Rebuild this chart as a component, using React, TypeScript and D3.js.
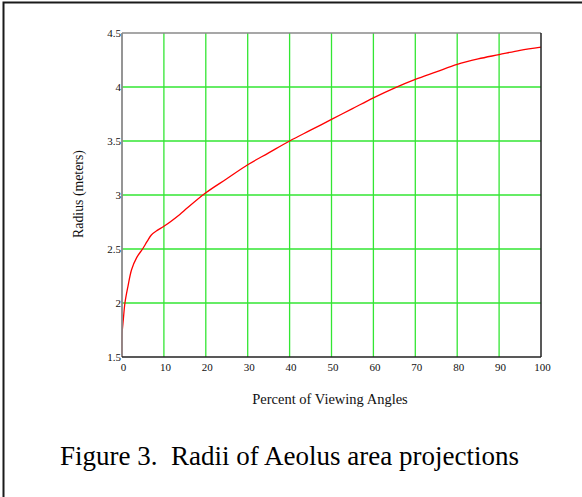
import React from "react";
import * as d3 from "d3";

// Percent of viewing angles (x) and corresponding radius in meters (y)
const percent = [0, 0, 0.1, 0.3, 0.7, 1.4, 2.3, 3.5, 4.9, 6, 7, 8.5, 10, 13.8, 15, 20, 25, 30, 35, 40, 45, 50, 55, 60, 65, 70, 75, 80, 85, 90, 95, 100];
const radius = [1.5, 1.7, 1.76, 1.84, 2.0, 2.15, 2.31, 2.42, 2.5, 2.57, 2.63, 2.675, 2.71, 2.82, 2.86, 3.02, 3.15, 3.28, 3.39, 3.5, 3.6, 3.7, 3.8, 3.9, 3.99, 4.07, 4.14, 4.21, 4.26, 4.3, 4.34, 4.37];

const xTicks = [0, 10, 20, 30, 40, 50, 60, 70, 80, 90, 100];
const yTicks = [1.5, 2, 2.5, 3, 3.5, 4, 4.5];
const yTickLabels = ["1.5", "2", "2.5", "3", "3.5", "4", "4.5"];

const xTitle = "Percent of Viewing Angles";
const yTitle = "Radius (meters)";
const caption = "Figure 3.  Radii of Aeolus area projections";

const W = 582;
const H = 497;
const plot = { left: 122, right: 541, top: 33, bottom: 357 };
const serif = "'Liberation Serif', 'Times New Roman', serif";

export default function App() {
  const x = d3.scaleLinear().domain([0, 100]).range([plot.left, plot.right]);
  const y = d3.scaleLinear().domain([1.5, 4.5]).range([plot.bottom, plot.top]);

  const pts: [number, number][] = percent.map((p, i) => [p, radius[i]]);
  const line = d3
    .line<[number, number]>()
    .x((d) => x(d[0]))
    .y((d) => y(d[1]))
    .curve(d3.curveCatmullRom.alpha(0.5));

  return (
    <svg
      width={W}
      height={H}
      style={{ position: "absolute", left: 0, top: 0, background: "#fff" }}
    >
      {/* frame around the figure */}
      <rect x={3.5} y={2.5} width={W + 10} height={H + 10} fill="none" stroke="#1a1a1a" strokeWidth={2} />

      {/* grid */}
      <g stroke="#33e633" strokeWidth={1.3}>
        {xTicks.slice(1, -1).map((t) => (
          <line key={"gx" + t} x1={x(t)} x2={x(t)} y1={plot.top} y2={plot.bottom} />
        ))}
        {yTicks.slice(1, -1).map((t) => (
          <line key={"gy" + t} x1={plot.left} x2={plot.right} y1={y(t)} y2={y(t)} />
        ))}
      </g>

      {/* curve */}
      <path d={line(pts) || ""} fill="none" stroke="#ff0000" strokeWidth={1.3} />

      {/* plot box */}
      <line x1={plot.left} x2={plot.right} y1={plot.top} y2={plot.top} stroke="#8a8a8a" strokeWidth={1.6} />
      <line x1={plot.left} x2={plot.left} y1={plot.top} y2={plot.bottom} stroke="#8a8a8a" strokeWidth={1.8} />
      <line x1={plot.right} x2={plot.right} y1={plot.top} y2={plot.bottom} stroke="#222" strokeWidth={1.5} />
      <line x1={plot.left} x2={plot.right} y1={plot.bottom} y2={plot.bottom} stroke="#222" strokeWidth={1.5} />

      {/* tick labels */}
      <g fontFamily={serif} fontSize={11} fill="#111">
        {yTicks.map((t, i) => (
          <text key={"yl" + t} x={plot.left - 1} y={y(t)} dy="0.35em" textAnchor="end">
            {yTickLabels[i]}
          </text>
        ))}
        {xTicks.map((t) => (
          <text key={"xl" + t} x={x(t) + 1.5} y={plot.bottom + 14} textAnchor="middle">
            {t}
          </text>
        ))}
      </g>

      {/* axis titles */}
      <text x={330} y={404} textAnchor="middle" fontFamily={serif} fontSize={14.5} fill="#111">
        {xTitle}
      </text>
      <text
        transform={`translate(83, 194) rotate(-90)`}
        textAnchor="middle"
        fontFamily={serif}
        fontSize={13.8}
        fill="#111"
      >
        {yTitle}
      </text>

      {/* caption */}
      <text x={60} y={465} fontFamily={serif} fontSize={27} fill="#000" style={{ whiteSpace: "pre" }}>
        {caption}
      </text>
    </svg>
  );
}
